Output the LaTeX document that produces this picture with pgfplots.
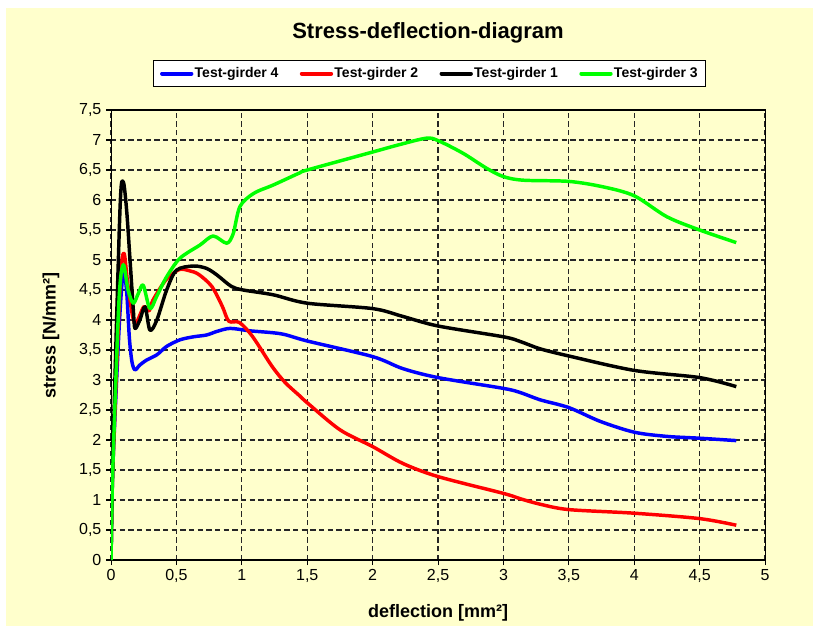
\documentclass[border=0pt]{standalone}
\usepackage{fontspec}
\setmainfont{Liberation Sans}
\usepackage{pgfplots}
\pgfplotsset{compat=1.18}
\definecolor{bgyellow}{RGB}{255,255,204}
\definecolor{ggreen}{RGB}{0,255,0}
\begin{document}
\begin{tikzpicture}
\fill[white] (0pt,0pt) rectangle (609.75pt,469.5pt);
\fill[bgyellow] (4.5pt,0pt) rectangle (609.75pt,463.5pt);
\path[use as bounding box] (0pt,0pt) rectangle (609.75pt,469.5pt);
\node[font=\fontsize{16.5}{19}\selectfont\bfseries] at (321pt,444.75pt) {Stress-deflection-diagram};
\begin{axis}[
  at={(83.3pt,49.5pt)}, anchor=south west,
  scale only axis, width=490.5pt, height=337.5pt,
  xmin=0, xmax=5, ymin=0, ymax=7.5,
  xtick={0,0.5,1,1.5,2,2.5,3,3.5,4,4.5,5},
  ytick={0,0.5,1,1.5,2,2.5,3,3.5,4,4.5,5,5.5,6,6.5,7,7.5},
  xtick pos=left, ytick pos=left,
  tick align=outside, major tick length=3.75pt,
  every tick/.style={black, line width=0.8pt},
  axis line style={black, line width=0.8pt},
  grid=major,
  major grid style={black!85, line width=0.9pt, dash pattern=on 4pt off 2.5pt},
  /pgf/number format/.cd, use comma, 1000 sep={}, assume math mode=true,
  /pgfplots/.cd,
  ticklabel style={font=\fontsize{12}{14}\selectfont},
  xlabel={deflection [mm²]},
  ylabel={stress [N/mm²]},
  xlabel style={font=\fontsize{13.5}{16}\selectfont\bfseries, at={(axis description cs:0.5,-0.118)}, anchor=center},
  ylabel style={font=\fontsize{13.5}{16}\selectfont\bfseries, at={(axis description cs:-0.092,0.5)}, anchor=center, rotate=0},
  legend columns=4,
  legend style={at={(0.487,1.081)}, anchor=center, draw=black, line width=0.75pt, fill=white,
    font=\fontsize{10.5}{12}\selectfont\bfseries, inner xsep=5pt, inner ysep=4pt,
    /tikz/every even column/.append style={column sep=15pt},
    nodes={inner sep=1pt}},
  legend image code/.code={\draw[#1, line width=3pt, line cap=round] (0pt,0pt) -- (22pt,0pt);},
  every axis plot/.append style={line width=2.6pt, smooth, tension=0.5, line join=round},
]
\addplot[blue] coordinates {
(0,0) (0.013,1.5) (0.06,3.8) (0.085,4.65) (0.099,4.83) (0.12,4.45) (0.14,3.7) (0.16,3.3) (0.183,3.17)
(0.22,3.25) (0.27,3.33) (0.35,3.42) (0.425,3.56) (0.527,3.67) (0.63,3.72) (0.73,3.75) (0.81,3.81)
(0.91,3.86) (1.06,3.82) (1.3,3.77) (1.5,3.65) (2,3.39) (2.23,3.19) (2.5,3.04)
(3,2.86) (3.13,2.79) (3.28,2.67) (3.5,2.54) (3.74,2.31) (4,2.13) (4.25,2.06) (4.5,2.03) (4.78,1.99)
};
\addlegendentry{Test-girder 4}
\addplot[red] coordinates {
(0,0) (0.013,1.5) (0.07,4.6) (0.099,5.11) (0.13,4.56) (0.18,3.95) (0.25,4.22) (0.29,4.15)
(0.32,4.33) (0.42,4.67) (0.52,4.84) (0.6,4.82) (0.67,4.76) (0.77,4.56) (0.85,4.23) (0.9,3.98)
(0.98,3.96) (1.08,3.73) (1.23,3.23) (1.33,2.96) (1.44,2.74) (1.5,2.62) (1.75,2.17) (2,1.89)
(2.23,1.61) (2.5,1.39) (3,1.11) (3.13,1.02) (3.28,0.93) (3.5,0.84) (4,0.78) (4.5,0.69) (4.78,0.58)
};
\addlegendentry{Test-girder 2}
\addplot[black] coordinates {
(0,0) (0.013,1.67) (0.068,5.83) (0.093,6.3) (0.119,5.83) (0.145,5.0) (0.17,4.17) (0.183,3.86)
(0.22,4.0) (0.26,4.22) (0.297,3.83) (0.35,4.0) (0.425,4.5) (0.5,4.83) (0.63,4.9) (0.73,4.86)
(0.81,4.75) (0.92,4.56) (1.01,4.5) (1.24,4.42) (1.5,4.28) (2,4.19) (2.23,4.06)
(2.5,3.9) (3,3.72) (3.13,3.64) (3.28,3.52) (3.5,3.4) (4,3.16) (4.5,3.04) (4.78,2.89)
};
\addlegendentry{Test-girder 1}
\addplot[ggreen] coordinates {
(0,0) (0.013,1.5) (0.06,4.3) (0.093,4.92) (0.13,4.5) (0.17,4.28) (0.21,4.45) (0.246,4.58)
(0.297,4.19) (0.35,4.4) (0.425,4.72) (0.527,5.03) (0.68,5.25) (0.78,5.4) (0.884,5.28) (0.934,5.44)
(0.985,5.89) (1.09,6.11) (1.24,6.25) (1.44,6.45) (1.5,6.5) (2,6.8) (2.2,6.92) (2.41,7.03)
(2.5,6.99) (2.69,6.78) (2.87,6.53) (3,6.39) (3.15,6.33) (3.5,6.31) (3.76,6.22) (4,6.07)
(4.25,5.72) (4.5,5.5) (4.78,5.29)
};
\addlegendentry{Test-girder 3}
\end{axis}
\end{tikzpicture}
\end{document}
